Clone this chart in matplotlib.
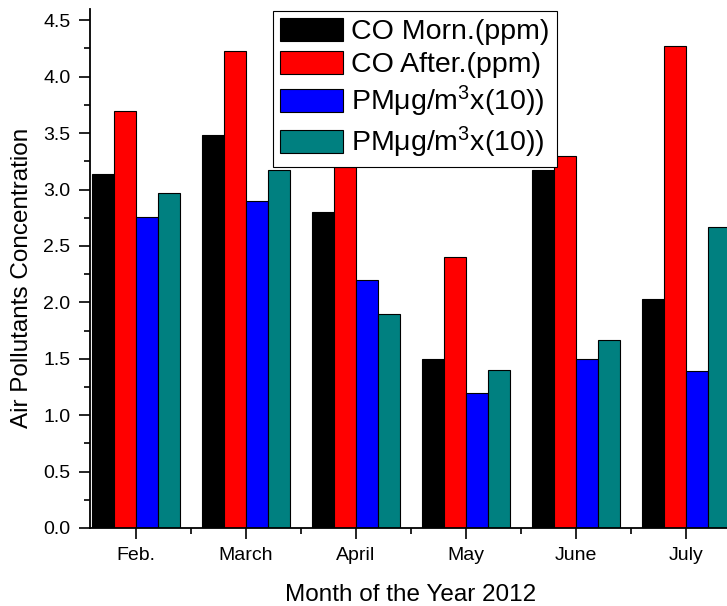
import matplotlib
matplotlib.use("Agg")
import matplotlib.pyplot as plt
import numpy as np
from matplotlib.ticker import MultipleLocator, FixedLocator

plt.rcParams['font.family'] = ['Liberation Sans', 'DejaVu Sans']
plt.rcParams['mathtext.fontset'] = 'custom'
plt.rcParams['mathtext.rm'] = 'Liberation Sans'
plt.rcParams['mathtext.it'] = 'Liberation Sans'
plt.rcParams['mathtext.default'] = 'regular'

months = ['Feb.', 'March', 'April', 'May', 'June', 'July']
co_morn = [3.14, 3.48, 2.80, 1.50, 3.17, 2.03]
co_after = [3.70, 4.23, 3.20, 2.40, 3.30, 4.27]
pm_a = [2.76, 2.90, 2.20, 1.20, 1.50, 1.39]
pm_b = [2.97, 3.17, 1.90, 1.40, 1.67, 2.67]

labels = ['CO Morn.(ppm)', 'CO After.(ppm)', 'PMμg/m$^3$x(10))', 'PMμg/m$^3$x(10))']
colors = ['#000000', '#ff0000', '#0000ff', '#008080']

fig = plt.figure(figsize=(7.27, 6.06), dpi=100)
ax = fig.add_axes([90 / 727, 78 / 606, 642 / 727, 519 / 606])

x = np.arange(len(months))
w = 0.2
series = [co_morn, co_after, pm_a, pm_b]
for i, vals in enumerate(series):
    ax.bar(x + (i - 1.5) * w, vals, w, color=colors[i], edgecolor='black',
           linewidth=0.8, label=labels[i])

ax.set_xlim(-0.42, 5.42)
ax.set_ylim(0, 4.6)
ax.set_xticks(x)
ax.set_xticklabels(months)
ax.xaxis.set_minor_locator(FixedLocator(x[:-1] + 0.5))
ax.yaxis.set_major_locator(MultipleLocator(0.5))
ax.yaxis.set_minor_locator(MultipleLocator(0.25))
ax.yaxis.set_major_formatter(matplotlib.ticker.FormatStrFormatter('%.1f'))

ax.tick_params(which='major', direction='out', length=8, width=1.2, labelsize=14, pad=6)
ax.tick_params(which='minor', direction='out', length=4.5, width=1.2)
ax.tick_params(axis='x', which='both', top=False)
ax.tick_params(axis='y', which='both', right=False)
ax.spines['top'].set_visible(False)
ax.spines['right'].set_visible(False)
ax.spines['left'].set_linewidth(1.3)
ax.spines['bottom'].set_linewidth(1.3)

ax.set_xlabel('Month of the Year 2012', fontsize=17.5, labelpad=14)
ax.set_ylabel('Air Pollutants Concentration', fontsize=17.5)
ax.yaxis.set_label_coords(-0.089, 0.481)

leg = ax.legend(loc='upper left', bbox_to_anchor=(273 / 727, 595 / 606),
                bbox_transform=fig.transFigure, fontsize=20.5, frameon=True,
                fancybox=False, edgecolor='black', framealpha=1,
                handlelength=2.2, handleheight=0.85, handletextpad=0.3,
                labelspacing=0.2, borderpad=0.25, borderaxespad=0)
leg.get_frame().set_linewidth(0.8)

fig.savefig('out.png', dpi=100)
